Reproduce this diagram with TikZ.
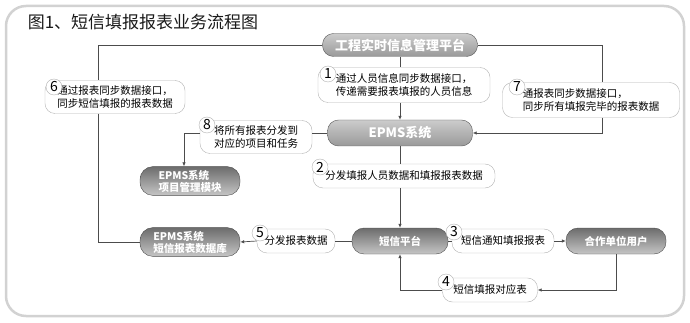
\documentclass[tikz,border=0pt]{standalone}
\usepackage{fontspec}
\newfontfamily\cjk{Noto Sans CJK SC}
\usetikzlibrary{arrows.meta}

\begin{document}
\begin{tikzpicture}[x=1pt, y=-1pt,
    hub/.style={draw=gray!70!black, rounded corners=11pt, minimum height=23pt, top color=gray!40, bottom color=gray!80, text=white, font=\cjk\fontsize{13}{15}\selectfont\bfseries},
    term/.style={draw=gray!60!black, rounded corners=13pt, minimum height=27pt, minimum width=100pt, top color=gray!85!black, bottom color=gray!45, text=white, align=left, font=\cjk\fontsize{10.5}{12}\selectfont\bfseries},
    lab/.style={draw=gray!60, fill=white, rounded corners=10pt, align=left, font=\cjk\fontsize{10.5}{12.5}\selectfont, inner sep=2pt},
    num/.style={circle, draw=gray!60, fill=white, inner sep=0pt, minimum size=16pt, font=\cjk\fontsize{14}{14}\selectfont},
    link/.style={draw=gray!60!black, line width=0.7pt},
    arrow/.style={link, -{Latex[length=4pt,width=3.5pt]}}
]
\useasboundingbox (0,0) rectangle (690,323);
\draw[gray!35, line width=2.5pt, rounded corners=20pt] (6,6) rectangle (684,316);
\node[font=\cjk\fontsize{17}{20}\selectfont, text=gray!20!black] (title) at (143,22) {图1、短信填报报表业务流程图};

% Systeme
\node[hub, minimum width=155pt] (plat) at (400,45) {工程实时信息管理平台};
\node[hub, minimum width=145pt, minimum height=26pt] (epms) at (400,133) {EPMS系统};
\node[term] (pm) at (190,181) {EPMS系统\\项目管理模块};
\node[term] (db) at (190,242) {EPMS系统\\短信报表数据库};
\node[term, minimum width=96pt, minimum height=26pt, rounded corners=12pt] (sms) at (400,241) {短信平台};
\node[term, minimum width=100pt, minimum height=26pt, rounded corners=12pt] (user) at (616,241) {合作单位用户};

% Beschriftungen
\node[lab, minimum width=172pt, minimum height=35pt] (l1) at (404,85) {通过人员信息同步数据接口，\\传递需要报表填报的人员信息};
\node[lab, minimum width=177pt, minimum height=35pt] (l7) at (591,100) {通报表同步数据接口，\\同步所有填报完毕的报表数据};
\node[lab, minimum width=140pt, minimum height=33pt] (l6) at (115,97) {通过报表同步数据接口，\\同步短信填报的报表数据};
\node[lab, minimum width=112pt, minimum height=33pt] (l8) at (256,137) {将所有报表分发到\\对应的项目和任务};
\node[lab, minimum width=182pt, minimum height=24pt] (l2) at (404,176) {分发填报人员数据和填报报表数据};
\node[lab, minimum width=78pt, minimum height=24pt] (l5) at (296,241) {分发报表数据};
\node[lab, minimum width=102pt, minimum height=24pt] (l3) at (503,241) {短信通知填报报表};
\node[lab, minimum width=95pt, minimum height=24pt] (l4) at (490,290) {短信填报对应表};

% Verbindungen
\draw[link] (plat.south) -- (plat.south |- l1.north);
\draw[arrow] (plat.south |- l1.south) -- (epms.north);
\draw[link] (plat.east) -| ([xshift=11pt]l7.north);
\draw[arrow] ([xshift=11pt]l7.south) |- (epms.east);
\draw[link] (plat.west) -| ([xshift=-17pt]l6.north);
\draw[link] ([xshift=-17pt]l6.south) |- (db.west);
\draw[link] (epms.west) -- (epms.west -| l8.east);
\draw[arrow] (l8.west |- epms.west) -| ([xshift=-6pt]pm.north);
\draw[link] (epms.south) -- (epms.south |- l2.north);
\draw[arrow] (epms.south |- l2.south) -- (sms.north);
\draw[link] (sms.east) -- (l3.west);
\draw[arrow] (l3.east) -- (user.west);
\draw[arrow] (user.south) |- (l4.east);
\draw[arrow] (l4.west) -| (sms.south);
\draw[link] (sms.west) -- (l5.east);
\draw[arrow] (l5.west) -- (db.east);

% Nummern
\node[num] (n1) at (328,74) {1};
\node[num] (n7) at (517,87) {7};
\node[num] (n6) at (54,87) {6};
\node[num] (n8) at (207,125) {8};
\node[num] (n2) at (320,167) {2};
\node[num] (n5) at (260,233) {5};
\node[num] (n3) at (454,232) {3};
\node[num] (n4) at (446,282) {4};
\end{tikzpicture}
\end{document}
